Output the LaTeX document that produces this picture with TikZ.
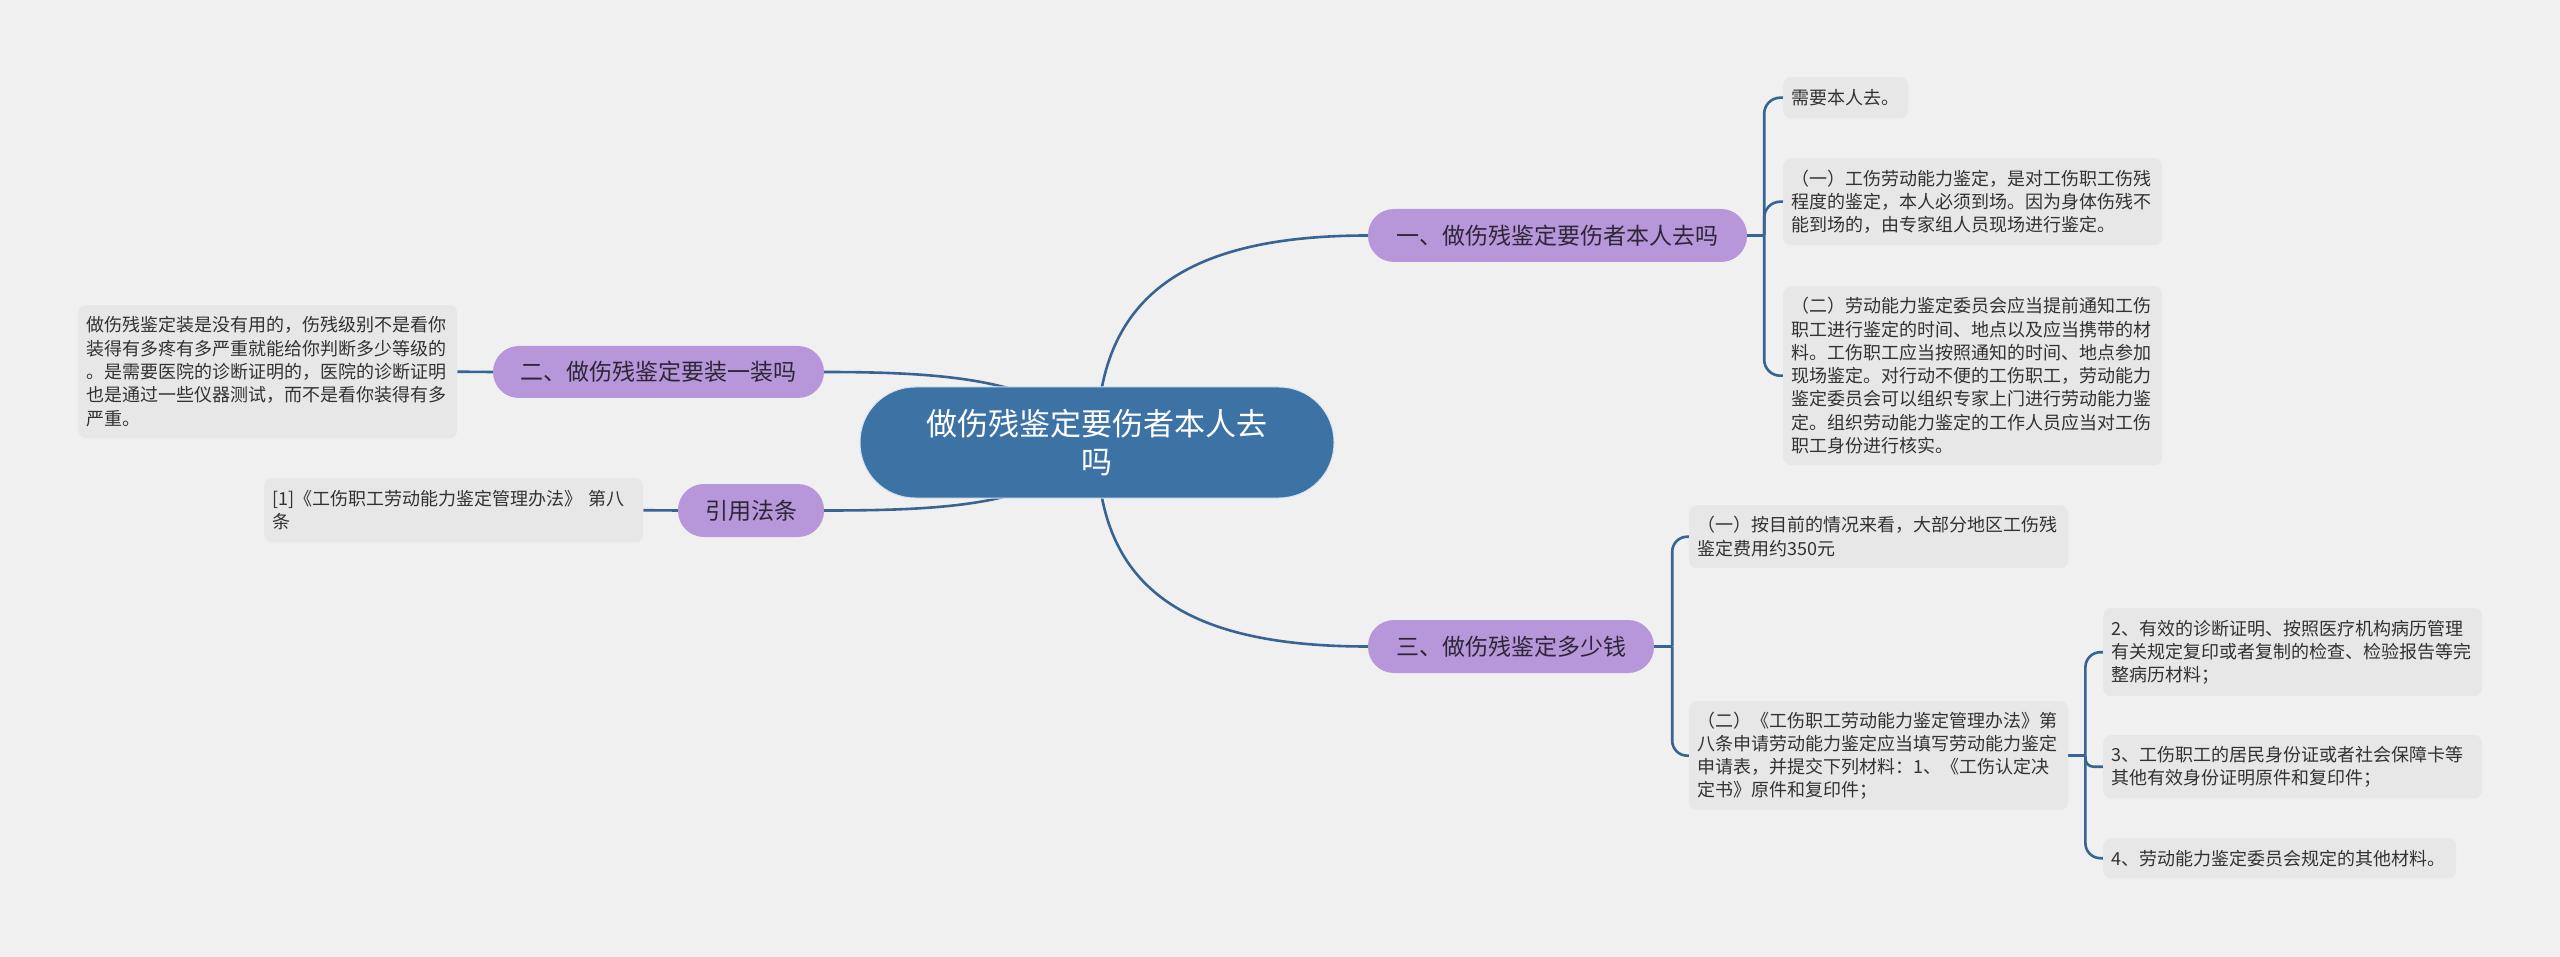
\documentclass[tikz,border=0pt]{standalone}
\usepackage{fontspec}
\setmainfont{Noto Sans CJK SC}
\usetikzlibrary{positioning}
\definecolor{bgcol}{RGB}{240,240,240}
\definecolor{rootcol}{RGB}{61,114,165}
\definecolor{branchcol}{RGB}{183,150,218}
\definecolor{branchtext}{RGB}{45,38,55}
\definecolor{leafcol}{RGB}{231,231,231}
\definecolor{leaftext}{RGB}{50,50,50}
\definecolor{conncol}{RGB}{56,100,148}
\pgfdeclarelayer{back}
\pgfdeclarelayer{lines}
\pgfsetlayers{back,lines,main}
\tikzset{
  rootbox/.style={fill=rootcol, draw={rgb,255:red,215;green,228;blue,240}, line width=1pt,
    rounded corners=55pt, text=white, font=\fontsize{31}{38}\selectfont, align=center,
    minimum width=474pt, minimum height=111pt, inner sep=0pt},
  branchbox/.style={fill=branchcol, rounded corners=26pt, text=branchtext,
    font=\fontsize{23}{28}\selectfont, inner sep=0pt, minimum height=53pt},
  leafbox/.style={fill=leafcol, rounded corners=8pt, text=leaftext,
    font=\fontsize{18}{23.3}\selectfont, text width=362pt, align=left,
    inner xsep=8.5pt, inner ysep=0pt, anchor=north west},
  conn/.style={draw=conncol, line width=2.6pt},
}
\begin{document}
\begin{tikzpicture}[x=1pt,y=-1pt]
\begin{pgfonlayer}{back}
\fill[bgcol] (0,0) rectangle (2560,957);
\end{pgfonlayer}
\useasboundingbox (0,0) rectangle (2560,957);

% root
\node[rootbox] (root) at (1097,442.5) {做伤残鉴定要伤者本人去\\吗};

% branches
\node[branchbox, minimum width=379pt] (b1) at (1557.5,235.5) {一、做伤残鉴定要伤者本人去吗};
\node[branchbox, minimum width=286pt] (b3) at (1511,646.5) {三、做伤残鉴定多少钱};
\node[branchbox, minimum width=331pt, minimum height=52pt] (b2) at (658.5,372) {二、做伤残鉴定要装一装吗};
\node[branchbox, minimum width=146pt] (b4) at (751,510.5) {引用法条};

% leaves of branch 1
\node[leafbox, text width=108pt, minimum height=41pt] (l1a) at (1783,77) {需要本人去。};
\node[leafbox, minimum height=87pt] (l1b) at (1783,158) {（一）工伤劳动能力鉴定，是对工伤职工伤残\\程度的鉴定，本人必须到场。因为身体伤残不\\能到场的，由专家组人员现场进行鉴定。};
\node[leafbox, minimum height=179pt] (l1c) at (1783,286) {（二）劳动能力鉴定委员会应当提前通知工伤\\职工进行鉴定的时间、地点以及应当携带的材\\料。工伤职工应当按照通知的时间、地点参加\\现场鉴定。对行动不便的工伤职工，劳动能力\\鉴定委员会可以组织专家上门进行劳动能力鉴\\定。组织劳动能力鉴定的工作人员应当对工伤\\职工身份进行核实。};

% leaves of branch 3
\node[leafbox, minimum height=63pt] (l3a) at (1689,505) {（一）按目前的情况来看，大部分地区工伤残\\鉴定费用约350元};
\node[leafbox, minimum height=109pt] (l3b) at (1689,701) {（二）《工伤职工劳动能力鉴定管理办法》第\\八条申请劳动能力鉴定应当填写劳动能力鉴定\\申请表，并提交下列材料：1、《工伤认定决\\定书》原件和复印件；};
\node[leafbox, minimum height=88pt] (l3c) at (2103,608) {2、有效的诊断证明、按照医疗机构病历管理\\有关规定复印或者复制的检查、检验报告等完\\整病历材料；};
\node[leafbox, minimum height=63pt] (l3d) at (2103,735) {3、工伤职工的居民身份证或者社会保障卡等\\其他有效身份证明原件和复印件；};
\node[leafbox, text width=336pt, minimum height=40pt] (l3e) at (2103,838) {4、劳动能力鉴定委员会规定的其他材料。};

% left leaves
\node[leafbox, minimum height=133pt] (l2) at (78,305) {做伤残鉴定装是没有用的，伤残级别不是看你\\装得有多疼有多严重就能给你判断多少等级的\\。是需要医院的诊断证明的，医院的诊断证明\\也是通过一些仪器测试，而不是看你装得有多\\严重。};
\node[leafbox, minimum height=64pt] (l4) at (264,478) {[1]《工伤职工劳动能力鉴定管理办法》 第八\\条};

% connectors
\begin{pgfonlayer}{lines}
\draw[conn] (root.center) .. controls +(0,-142.5) and +(-188,0) .. (b1.west);
\draw[conn] (root.center) .. controls +(0,142.5) and +(-188,0) .. (b3.west);
\draw[conn] (root.center) .. controls +(-47,-62.5) and +(126,0) .. (b2.east);
\draw[conn] (root.center) .. controls +(-47,62.5) and +(126,0) .. (b4.east);

\draw[conn] (b2.west) -- (l2.east);
\draw[conn] (b4.west) -- (l4.east);

\coordinate (j1) at ([xshift=17pt]b1.east);
\draw[conn] (b1.east) -- (j1);
\draw[conn, rounded corners=16pt] (j1) |- (l1a.west);
\draw[conn, rounded corners=16pt] (j1) |- (l1b.west);
\draw[conn, rounded corners=16pt] (j1) |- (l1c.west);

\coordinate (j3) at ([xshift=18pt]b3.east);
\draw[conn] (b3.east) -- (j3);
\draw[conn, rounded corners=15pt] (j3) |- (l3a.west);
\draw[conn, rounded corners=15pt] (j3) |- (l3b.west);

\coordinate (j3b) at ([xshift=17pt]l3b.east);
\draw[conn] (l3b.east) -- (j3b);
\draw[conn, rounded corners=15pt] (j3b) |- (l3c.west);
\draw[conn, rounded corners=8pt] (j3b) |- (l3d.west);
\draw[conn, rounded corners=15pt] (j3b) |- (l3e.west);
\end{pgfonlayer}
\end{tikzpicture}
\end{document}
